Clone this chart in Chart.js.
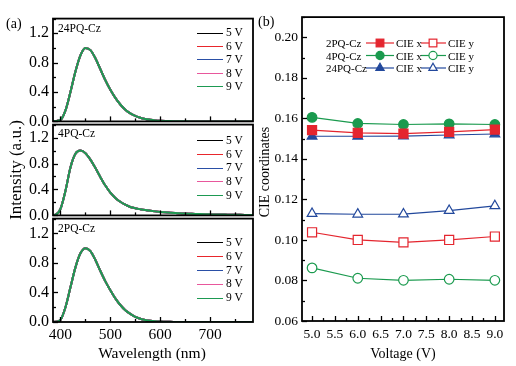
<!DOCTYPE html>
<html><head><meta charset="utf-8">
<script src="https://cdn.jsdelivr.net/npm/chart.js@4.4.1/dist/chart.umd.min.js"></script>
<style>
html,body{margin:0;padding:0;background:#fff;}
#wrap{position:relative;width:516px;height:366px;overflow:hidden;font-family:"Liberation Serif","Times New Roman",serif;color:#000;}
canvas{position:absolute;}
.t{position:absolute;white-space:nowrap;line-height:1;transform:translateY(-50%);}
.rot{position:absolute;white-space:nowrap;line-height:1;transform:translate(-50%,-50%) rotate(-90deg);}
.ctr{position:absolute;white-space:nowrap;line-height:1;transform:translate(-50%,-50%);}
.ln{position:absolute;height:0;border-top:1.5px solid;}
svg{position:absolute;left:0;top:0;}
</style></head><body><div id="wrap">
<canvas id="p1" width="260" height="130" style="left:0;top:5px"></canvas>
<canvas id="p2" width="260" height="118" style="left:0;top:111px"></canvas>
<canvas id="p3" width="260" height="143" style="left:0;top:205px"></canvas>
<canvas id="cie" width="258" height="340" style="left:258px;top:5px"></canvas>
</div>
<script>
// ---------- data ----------
const wavelengths = [380,390,400,410,420,430,440,450,460,470,480,490,500,510,520,530,540,550,560,570,580,590,600,610,620,630,640,650,660,670,680,690,700,710,720,730,740,750,760,770,780,790];
const spectrum24PQ = [0,0.005,0.02,0.15,0.40,0.68,0.90,1.0,0.97,0.86,0.71,0.56,0.43,0.32,0.23,0.16,0.11,0.075,0.05,0.033,0.022,0.014,0.009,0.006,0.004,0.003,0.002,0.001,0,0,0,0,0,0,0,0,0,0,0,0,0,0];
const spectrum4PQ = [0,0.01,0.10,0.38,0.74,0.95,1.0,0.96,0.86,0.73,0.59,0.46,0.35,0.27,0.21,0.165,0.13,0.11,0.095,0.082,0.071,0.062,0.054,0.047,0.041,0.036,0.032,0.028,0.025,0.022,0.02,0.018,0.016,0.014,0.013,0.012,0.011,0.01,0.009,0.008,0.007,0.007];
const spectrum2PQ = [0,0.003,0.03,0.20,0.47,0.74,0.93,1.0,0.96,0.84,0.69,0.55,0.43,0.32,0.23,0.16,0.11,0.07,0.045,0.028,0.017,0.01,0.006,0.004,0.002,0.001,0,0,0,0,0,0,0,0,0,0,0,0,0,0,0,0];
const voltageLabels = ['5 V','6 V','7 V','8 V','9 V'];
const intensityTicks = [0.0,0.4,0.8,1.2];
const wavelengthTicks = [400,500,600,700];
const wavelengthMinorTicks = [400,450,500,550,600,650,700,750];

const voltages = [5,6,7,8,9];
const cie2PQx  = [0.1542,0.1529,0.1525,0.1533,0.1545];
const cie2PQy  = [0.1038,0.1000,0.0988,0.1000,0.1017];
const cie4PQx  = [0.1605,0.1575,0.1570,0.1573,0.1570];
const cie4PQy  = [0.0862,0.0811,0.0801,0.0806,0.0801];
const cie24PQx = [0.1512,0.1512,0.1513,0.1518,0.1523];
const cie24PQy = [0.1130,0.1127,0.1128,0.1145,0.1168];
const compounds = ['2PQ-Cz','4PQ-Cz','24PQ-Cz'];

// ---------- styles ----------
const FONT = '"Liberation Serif","Times New Roman",serif';
const voltageColors = ['#000000','#e8262c','#2a4fa6','#e8579c','#1d9a52'];
const RED='#e4252e', GREEN='#1a9a4e', BLUE='#22489c';

function frameTicks(xMajor, yMajor, majorLen, minorLen){
  const isMajor = (v, step) => Math.abs(Math.round(v/step)*step - v) < 1e-6;
  return {
    id:'frameTicks',
    afterDraw(chart){
      const {ctx, chartArea:a} = chart;
      ctx.save();
      ctx.strokeStyle='#000';
      ctx.lineWidth=1.3;
      const xs = chart.scales.x, ys = chart.scales.y;
      xs.ticks.forEach(t=>{
        const p = Math.round(xs.getPixelForValue(t.value))+0.5;
        const len = isMajor(t.value,xMajor)?majorLen:minorLen;
        ctx.beginPath(); ctx.moveTo(p,a.bottom); ctx.lineTo(p,a.bottom-len); ctx.stroke();
      });
      ys.ticks.forEach(t=>{
        const p = Math.round(ys.getPixelForValue(t.value))+0.5;
        const len = isMajor(t.value,yMajor)?majorLen:minorLen;
        ctx.beginPath(); ctx.moveTo(a.left,p); ctx.lineTo(a.left+len,p); ctx.stroke();
      });
      ctx.lineWidth=1.8;
      ctx.strokeRect(a.left,a.top,a.right-a.left,a.bottom-a.top);
      ctx.restore();
    }
  };
}

function spectrumChart(id, spectrum, o){
  return new Chart(document.getElementById(id), {
    type:'line',
    data:{datasets: voltageLabels.map((lab,i)=>({
      label:lab,
      data: wavelengths.map((w,k)=>({x:w,y:spectrum[k]})),
      borderColor: voltageColors[i], backgroundColor: voltageColors[i],
      borderWidth:2, pointRadius:0, fill:false, cubicInterpolationMode:'monotone',
      order: voltageLabels.length-i
    }))},
    options:{
      responsive:false, animation:false, events:[],
      layout:{padding:{top:o.padTop,bottom:o.padBottom,left:0,right:7}},
      plugins:{legend:{display:false},tooltip:{enabled:false}},
      scales:{
        x:{type:'linear',min:385,max:786,border:{display:false},grid:{display:false,drawTicks:false},
           afterBuildTicks:s=>{ s.ticks = wavelengthMinorTicks.map(value=>({value})); },
           ticks:{display:o.showX,autoSkip:false,maxRotation:0,padding:4,
                  color:'#000',font:{family:FONT,size:15.5},
                  callback:v=> wavelengthTicks.includes(Math.round(v))?String(Math.round(v)):''},
           afterFit:s=>{s.height=o.xHeight;}},
        y:{type:'linear',min:0,max:1.4,border:{display:false},grid:{display:false,drawTicks:false},
           ticks:{stepSize:0.2,includeBounds:false,autoSkip:false,padding:4,color:'#000',font:{family:FONT,size:16},
                  callback:v=> intensityTicks.some(t=>Math.abs(t-v)<1e-6)?v.toFixed(1):''},
           afterFit:s=>{s.width=53;}}
      }
    },
    plugins:[frameTicks(100,0.4,5,3)]
  });
}

// panels: plot areas 17-123 / 123-217 / 217-322
spectrumChart('p1', spectrum24PQ, {padTop:12,padBottom:12,xHeight:0,showX:false});
spectrumChart('p2', spectrum4PQ,  {padTop:12,padBottom:12,xHeight:0,showX:false});
spectrumChart('p3', spectrum2PQ,  {padTop:12,padBottom:0,xHeight:26,showX:true});

// CIE chart
const cieSeries = [
  {label:'2PQ-Cz CIE x', data:cie2PQx, color:RED, style:'rect', r:6.4, open:false},
  {label:'2PQ-Cz CIE y', data:cie2PQy, color:RED, style:'rect', r:6.4, open:true},
  {label:'4PQ-Cz CIE x', data:cie4PQx, color:GREEN, style:'circle', r:4.8, open:false},
  {label:'4PQ-Cz CIE y', data:cie4PQy, color:GREEN, style:'circle', r:4.8, open:true},
  {label:'24PQ-Cz CIE x', data:cie24PQx, color:BLUE, style:'triangle', r:5.6, open:false},
  {label:'24PQ-Cz CIE y', data:cie24PQy, color:BLUE, style:'triangle', r:5.6, open:true}
];
new Chart(document.getElementById('cie'), {
  type:'line',
  data:{datasets: cieSeries.map(s=>({
    label:s.label,
    data: voltages.map((v,k)=>({x:v,y:s.data[k]})),
    borderColor:s.color, borderWidth:1.2, tension:0, fill:false,
    pointStyle:s.style, pointRadius:s.r, pointBorderWidth:1.2,
    pointBorderColor:s.color, pointBackgroundColor: s.open?'#ffffff':s.color
  }))},
  options:{
    responsive:false, animation:false, events:[],
    layout:{padding:{top:12,bottom:0,left:0,right:12}},
    plugins:{legend:{display:false},tooltip:{enabled:false}},
    scales:{
      x:{type:'linear',min:4.78,max:9.2,border:{display:false},grid:{display:false,drawTicks:false},
         ticks:{stepSize:0.25,includeBounds:false,autoSkip:false,maxRotation:0,padding:5,color:'#000',
                font:{family:FONT,size:13.5},
                callback:v=> Math.abs(Math.round(v*2)-v*2)<1e-6 ? v.toFixed(1) : ''},
         afterFit:s=>{s.height=24;}},
      y:{type:'linear',min:0.06,max:0.21,border:{display:false},grid:{display:false,drawTicks:false},
         ticks:{stepSize:0.01,includeBounds:false,autoSkip:false,padding:4,color:'#000',
                font:{family:FONT,size:13.5},
                callback:v=> (Math.round(v*100)%2===0)?v.toFixed(2):''},
         afterFit:s=>{s.width=44;}}
    }
  },
  plugins:[frameTicks(0.5,0.02,5,3)]
});

// ---------- text & legends ----------
const wrap = document.getElementById('wrap');
function txt(cls, s, x, y, size){
  const d=document.createElement('div'); d.className=cls; d.textContent=s;
  d.style.left=x+'px'; d.style.top=y+'px'; d.style.fontSize=size+'px'; wrap.appendChild(d); return d;
}
txt('t','(a)',6,24,14);
txt('t','(b)',258,22,14);
txt('rot','Intensity (a.u.)',15,170,17);
txt('ctr','Wavelength (nm)',152,353,15.5);
txt('rot','CIE coordinates',265,172,14);
txt('ctr','Voltage (V)',403,354,14);
const panelNames = ['24PQ-Cz','4PQ-Cz','2PQ-Cz'];
const titleY = [29,134,229];
const legendY0 = [33.3,140.7,242.7];
const legendDy = [13.4,13.8,13.9];
panelNames.forEach((n,p)=>{
  txt('t',n,58,titleY[p],11.5);
  voltageLabels.forEach((lab,i)=>{
    const y = legendY0[p]+i*legendDy[p];
    const l=document.createElement('div'); l.className='ln';
    l.style.left='197px'; l.style.width='26px'; l.style.top=(y-0.75)+'px'; l.style.borderColor=voltageColors[i];
    wrap.appendChild(l);
    txt('t',lab,226,y,11.5);
  });
});
const legRowY=[43,55.5,68];
const NS='http://www.w3.org/2000/svg';
const svg=document.createElementNS(NS,'svg'); svg.setAttribute('width','516'); svg.setAttribute('height','366');
wrap.appendChild(svg);
function marker(style, cx, cy, r, color, open){
  let e;
  if(style==='rect'){ const s=r*Math.SQRT1_2; e=document.createElementNS(NS,'rect');
    e.setAttribute('x',cx-s); e.setAttribute('y',cy-s); e.setAttribute('width',2*s); e.setAttribute('height',2*s);}
  else if(style==='circle'){ e=document.createElementNS(NS,'circle'); e.setAttribute('cx',cx); e.setAttribute('cy',cy); e.setAttribute('r',r);}
  else { e=document.createElementNS(NS,'polygon');
    const h=r*Math.sqrt(3)/2;
    e.setAttribute('points',`${cx},${cy-r} ${cx+h},${cy+r/2} ${cx-h},${cy+r/2}`);}
  e.setAttribute('fill',open?'#fff':color); e.setAttribute('stroke',color); e.setAttribute('stroke-width','1.2');
  svg.appendChild(e);
}
function line(x1,x2,y,color){
  const e=document.createElementNS(NS,'line');
  e.setAttribute('x1',x1);e.setAttribute('x2',x2);e.setAttribute('y1',y);e.setAttribute('y2',y);
  e.setAttribute('stroke',color);e.setAttribute('stroke-width','1.2'); svg.appendChild(e);
}
compounds.forEach((c,r)=>{
  const y=legRowY[r];
  txt('t',c,326,y,11);
  const sx=cieSeries[r*2], sy=cieSeries[r*2+1];
  line(366,394,y,sx.color); marker(sx.style,380,y,sx.r*0.85,sx.color,false);
  txt('t','CIE x',396,y,11);
  line(421,446,y,sy.color); marker(sy.style,433,y,sy.r*0.85,sy.color,true);
  txt('t','CIE y',448,y,11);
});
</script>
</body></html>
